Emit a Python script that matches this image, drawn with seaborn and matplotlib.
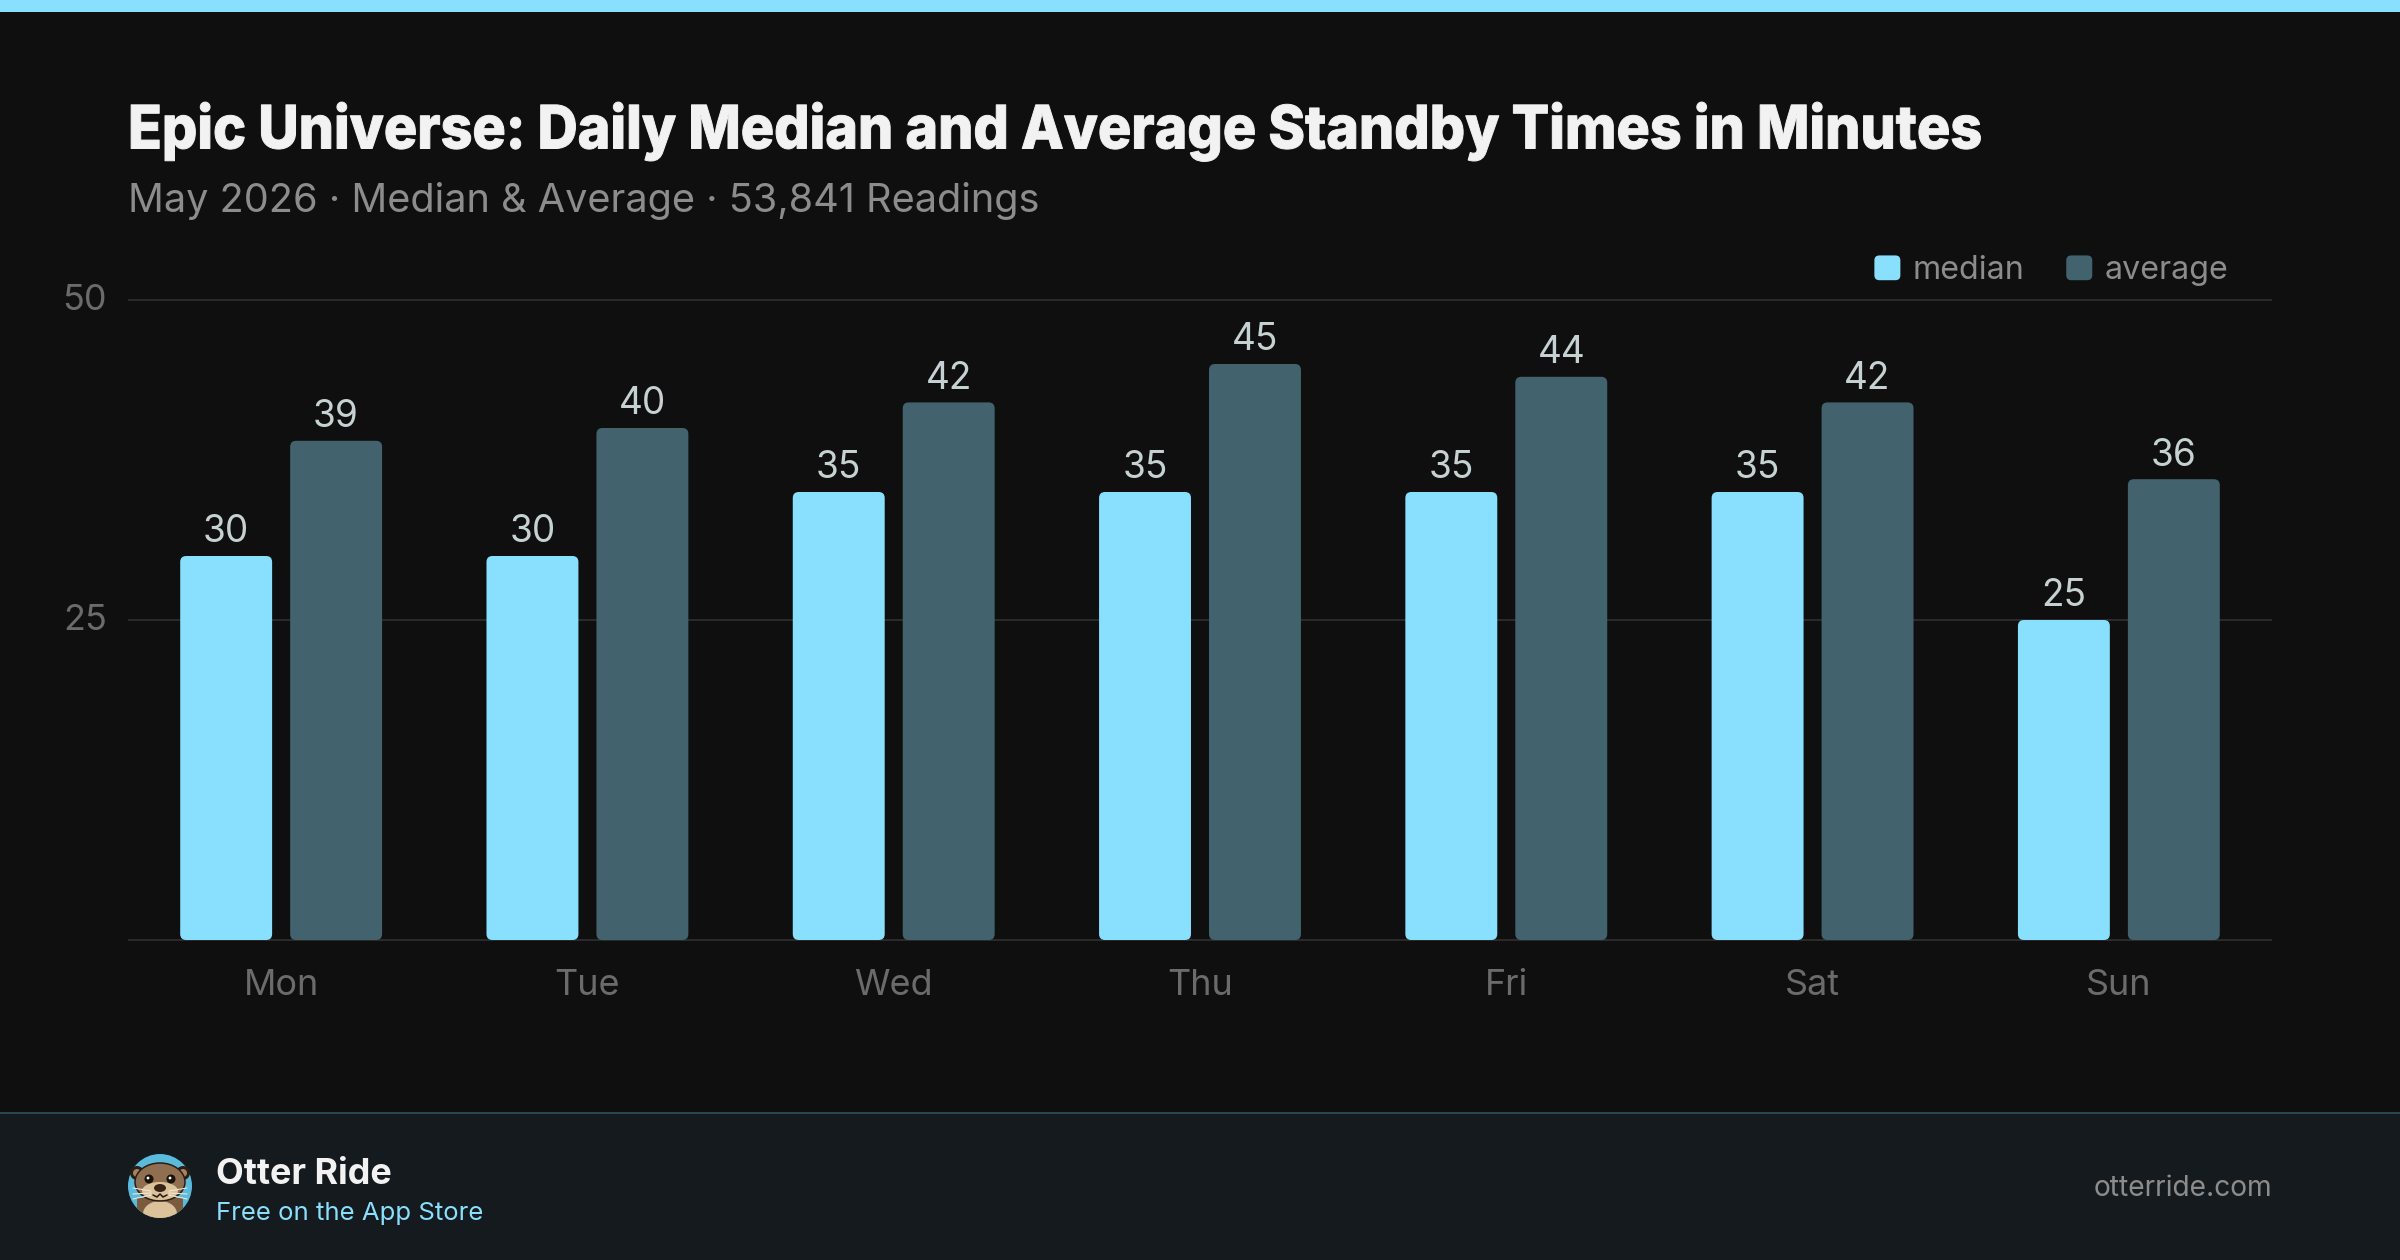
import matplotlib
matplotlib.use("Agg")
import matplotlib.pyplot as plt
from matplotlib.legend_handler import HandlerPatch
from matplotlib.patches import Circle, Ellipse, FancyBboxPatch, Polygon, Rectangle
from matplotlib.patheffects import AbstractPathEffect
from matplotlib.transforms import Affine2D, ScaledTranslation
import pandas as pd
import seaborn as sns

days = ["Mon", "Tue", "Wed", "Thu", "Fri", "Sat", "Sun"]
median_minutes = [30, 30, 35, 35, 35, 35, 25]
average_minutes = [39, 40, 42, 45, 44, 42, 36]
y_ticks = [0, 25, 50]
y_tick_labels = ["", "25", "50"]

title = "Epic Universe: Daily Median and Average Standby Times in Minutes"
subtitle = "May 2026 · Median & Average · 53,841 Readings"
brand = "Otter Ride"
tagline = "Free on the App Store"
site = "otterride.com"

BG = "#0f0f0f"
FOOTER = "#141a1e"
CYAN = "#89dffe"
SLATE = "#42636e"
W, H = 2400, 1260
PT = 72 / 200  # points per output pixel at 200 dpi

sns.set_theme(style="dark")
plt.rcParams["font.family"] = ["Inter", "DejaVu Sans"]

fig = plt.figure(figsize=(W / 200, H / 200), dpi=200, facecolor=BG)


def px_axes(x0, y0, x1, y1, **kw):
    """Axes placed by pixel edges, measured from the top-left corner."""
    return fig.add_axes([x0 / W, 1 - y1 / H, (x1 - x0) / W, (y1 - y0) / H], **kw)


class Condensed(AbstractPathEffect):
    """Narrow the glyph outlines horizontally and thicken them a little."""

    def __init__(self, factor, stroke_px=0.0):
        super().__init__()
        self.factor = factor
        self.stroke_px = stroke_px

    def draw_path(self, renderer, gc, tpath, affine, rgbFace=None):
        squeezed = Affine2D().scale(self.factor, 1) + affine
        if self.stroke_px:
            gc0 = renderer.new_gc()
            gc0.copy_properties(gc)
            gc0.set_linewidth(self.stroke_px * PT)
            gc0.set_foreground(rgbFace)
            renderer.draw_path(gc0, tpath, squeezed, rgbFace)
            gc0.restore()
        else:
            renderer.draw_path(gc, tpath, squeezed, rgbFace)


# Page furniture: top stripe and footer band, kept behind the axes
fig.add_artist(Rectangle((0, 1 - 12 / H), 1, 12 / H, transform=fig.transFigure, color=CYAN, lw=0, zorder=-2))
fig.add_artist(Rectangle((0, 0), 1, 1 - 1112 / H, transform=fig.transFigure, color=FOOTER, lw=0, zorder=-2))
fig.add_artist(Rectangle((0, 1 - 1114 / H), 1, 2 / H, transform=fig.transFigure, color="#2c4650", lw=0, zorder=-1))

# Grouped bars
ax = px_axes(128, 300, 2272, 940)
ax.set_facecolor("none")
frame = pd.DataFrame({
    "day": days * 2,
    "minutes": median_minutes + average_minutes,
    "series": ["median"] * 7 + ["average"] * 7,
})
sns.barplot(
    data=frame, x="day", y="minutes", hue="series", order=days,
    hue_order=["median", "average"], palette=[CYAN, SLATE],
    width=0.718, gap=0.164, saturation=1, legend=False, ax=ax, zorder=3,
)
ax.set_xlim(-0.5, 6.5)
ax.set_ylim(0, 50)
ax.set_xlabel("")
ax.set_ylabel("")

# Value labels sit above each bar; the square bars then get rounded corners
x_per_px = 7 / 2144
y_per_px = 50 / 640
radius_px = 6
for container in ax.containers:
    ax.bar_label(container, fmt="%d", padding=2.0, color="#c6d1d1",
                 fontsize=37 * PT, zorder=4)
    for bar in container:
        bx, by, bw, bh = bar.get_x(), bar.get_y(), bar.get_width(), bar.get_height()
        ax.add_patch(FancyBboxPatch(
            (bx, by), bw, bh,
            boxstyle=f"round,pad=0,rounding_size={radius_px * x_per_px}",
            mutation_aspect=y_per_px / x_per_px,
            facecolor=bar.get_facecolor(), edgecolor="none", zorder=3,
        ))
        bar.set_visible(False)

# Axis styling
ax.set_yticks(y_ticks, y_tick_labels)
ax.grid(axis="y", color="#2a2a2a", lw=2 * PT, zorder=0, clip_on=False, solid_capstyle="butt")
ax.grid(axis="x", visible=False)
ax.set_axisbelow(True)
for spine in ax.spines.values():
    spine.set_visible(False)
ax.tick_params(axis="x", length=0, pad=29 * PT, labelsize=36 * PT, labelcolor="#6b6b6b")
ax.tick_params(axis="y", length=0, pad=21 * PT, labelsize=36 * PT, labelcolor="#6b6b6b")
nudge_up = ScaledTranslation(0, 3 / 200, fig.dpi_scale_trans)
for label in ax.get_yticklabels():
    label.set_transform(label.get_transform() + nudge_up)


def rounded_swatch(legend, orig_handle, xdescent, ydescent, width, height, fontsize):
    return FancyBboxPatch((-xdescent, -ydescent), width, height,
                          boxstyle=f"round,pad=0,rounding_size={5 * PT}",
                          facecolor=orig_handle.get_facecolor(), edgecolor="none")


legend = ax.legend(
    handles=[Rectangle((0, 0), 1, 1, facecolor=CYAN, edgecolor="none"),
             Rectangle((0, 0), 1, 1, facecolor=SLATE, edgecolor="none")],
    labels=["median", "average"], loc="lower right",
    bbox_to_anchor=((2228 - 128) / 2144, (940 - 286) / 640), frameon=False, ncols=2,
    fontsize=32.2 * PT, labelcolor="#8c8c8c", handlelength=26 / 32.2,
    handleheight=26 / 32.2, handletextpad=12 / 32.2,
    columnspacing=42 / 32.2, borderpad=0, borderaxespad=0,
    handler_map={Rectangle: HandlerPatch(patch_func=rounded_swatch)},
)
for handle in legend.legend_handles:
    handle.set_edgecolor("none")

# Heading
fig.text(128 / W, 1 - 131.5 / H, title, fontsize=60 * PT, fontweight=800, color="#f2f2f2",
         va="center", ha="left", path_effects=[Condensed(0.926, stroke_px=1.0)])
fig.text(128 / W, 1 - 201.5 / H, subtitle, fontsize=39.7 * PT, color="#8c8c8c", va="center", ha="left")

# Footer text
fig.text(216 / W, 1 - 1174.5 / H, brand, fontsize=36 * PT, fontweight="bold", color="#f2f2f2",
         va="center", ha="left")
fig.text(216 / W, 1 - 1213.5 / H, tagline, fontsize=25.7 * PT, color=CYAN, va="center", ha="left")
fig.text(2272 / W, 1 - 1189 / H, site, fontsize=28.2 * PT, color="#8c8c8c", va="center", ha="right")

# Otter badge, drawn in its own 64-unit square
icon = px_axes(128, 1154, 192, 1218)
icon.set_xlim(0, 64)
icon.set_ylim(64, 0)
icon.set_aspect("equal")
icon.axis("off")
disc = Circle((32, 32), 32, facecolor="#5bbbdc", edgecolor="none")
icon.add_patch(disc)
FUR = "#8f6f50"
DARK = "#2a1d14"
CREAM = "#dcc29a"
for ex in (9, 55):
    icon.add_patch(Circle((ex, 19), 7, facecolor=DARK, edgecolor="none"))
    icon.add_patch(Circle((ex, 19), 4, facecolor="#a5835f", edgecolor="none"))
body = Polygon([(9, 64), (9, 44), (55, 44), (55, 64)], facecolor="#7a5b40", edgecolor="none")
icon.add_patch(body)
body.set_clip_path(disc)
chest = Ellipse((32, 60), 34, 26, facecolor=CREAM, edgecolor="none")
icon.add_patch(chest)
chest.set_clip_path(disc)
icon.add_patch(Ellipse((32, 28), 50, 38, facecolor=FUR, edgecolor=DARK, lw=1.5 * PT))
icon.add_patch(Ellipse((32, 37), 36, 18, facecolor=CREAM, edgecolor="none"))
for ex in (21, 43):
    icon.add_patch(Circle((ex, 25), 4.5, facecolor="#1a110b", edgecolor="none"))
    icon.add_patch(Circle((ex - 1, 24), 1.4, facecolor="white", edgecolor="none"))
icon.add_patch(Ellipse((32, 34), 12, 8, facecolor="#3a2418", edgecolor="none"))
icon.plot([25, 29, 32, 35, 39], [41, 43, 40, 43, 41], color=DARK, lw=1.6 * PT)
for side in (-1, 1):
    for y0, y1 in ((37, 34), (39, 40), (41, 45)):
        icon.plot([32 + side * 9, 32 + side * 27], [y0, y1], color="#efe6d6", lw=1.1 * PT)

fig.savefig("out.png", dpi=200, facecolor=BG)
